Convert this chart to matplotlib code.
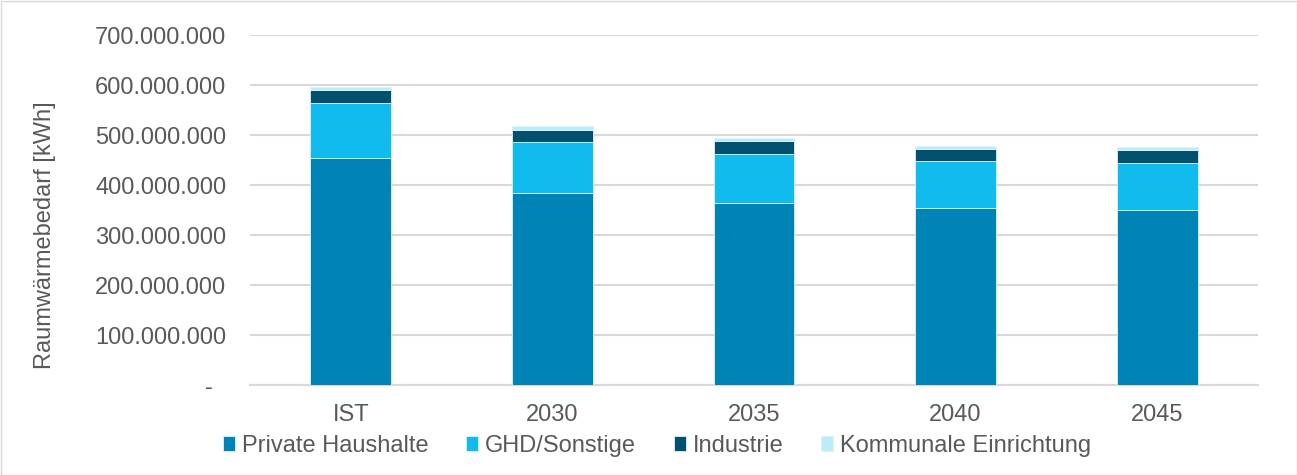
import matplotlib.pyplot as plt
from matplotlib.patches import Rectangle
from matplotlib.ticker import FuncFormatter

plt.rcParams['font.family'] = ['Liberation Sans', 'DejaVu Sans']

# Raumwärmebedarf je Szenario (kWh)
jahre = ["IST", "2030", "2035", "2040", "2045"]
private = [455e6, 385e6, 365e6, 354e6, 350e6]
ghd = [109e6, 101e6, 97e6, 94e6, 94e6]
industrie = [26e6, 25e6, 26e6, 25e6, 26e6]
kommunal = [7e6, 7e6, 6e6, 5e6, 6e6]

namen = ["Private Haushalte", "GHD/Sonstige", "Industrie", "Kommunale Einrichtung"]
farben = ["#0083B5", "#12BBEE", "#00506E", "#BDEBFB"]

grau = "#595959"
fig = plt.figure(figsize=(12.97, 4.75), dpi=100)
ax = fig.add_axes([250 / 1297, 90 / 475, 1008 / 1297, 350 / 475])

x = range(len(jahre))
unten = [0] * len(jahre)
for werte, name, farbe in zip([private, ghd, industrie, kommunal], namen, farben):
    ax.bar(x, werte, bottom=unten, width=0.4, color=farbe, label=name,
           edgecolor="#DDF3FC", linewidth=0.6, zorder=3)
    unten = [u + w for u, w in zip(unten, werte)]

ax.set_xlim(-0.5, 4.5)
ax.set_ylim(0, 700e6)
ax.set_yticks([i * 100e6 for i in range(8)])


def fmt(v, pos):
    if v == 0:
        return "-  "
    return f"{v:,.0f}".replace(",", ".")


ax.yaxis.set_major_formatter(FuncFormatter(fmt))
ax.set_xticks(list(x))
ax.set_xticklabels(jahre)
ax.tick_params(axis="both", length=0, labelsize=17, colors=grau)
ax.tick_params(axis="y", pad=17)
ax.tick_params(axis="x", pad=14)
ax.grid(axis="y", color="#D9D9D9", linewidth=1.5, zorder=0)
for s in ["top", "right", "left"]:
    ax.spines[s].set_visible(False)
ax.spines["bottom"].set_color("#D9D9D9")
ax.spines["bottom"].set_linewidth(1.5)

fig.text(45 / 1297, 240 / 475, "Raumwärmebedarf [kWh]", rotation=90,
         ha="center", va="center", fontsize=17, color=grau)

fig.legend(loc="center", bbox_to_anchor=(657 / 1297, 1 - 446 / 475), ncol=4,
           frameon=False, fontsize=17, labelcolor=grau, handlelength=0.5,
           handleheight=0.6, handletextpad=0.3, columnspacing=1.6)

fig.patches.append(Rectangle((0.5 / 1297, 0.5 / 475), 1 - 1 / 1297, 1 - 1 / 475,
                             transform=fig.transFigure, fill=False,
                             edgecolor="#D9D9D9", linewidth=1))

fig.savefig("out.png", dpi=100)
